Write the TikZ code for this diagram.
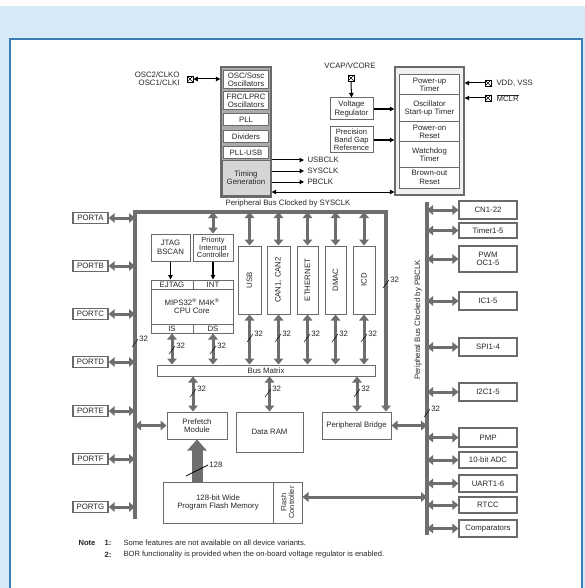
\documentclass[tikz,border=0pt]{standalone}
\usepackage{fontspec}
\setmainfont{Liberation Sans}
\usetikzlibrary{arrows.meta, positioning}

\definecolor{bgblue}{HTML}{D6EAF8}
\definecolor{frameblue}{HTML}{3D7DB5}
\definecolor{linegray}{HTML}{6A6A6A}
\definecolor{busgray}{HTML}{6E6E6E}
\definecolor{stackgray}{HTML}{ABABAB}
\definecolor{timegray}{HTML}{D6D6D6}

\tikzset{
  sz/.style 2 args={minimum width=#1pt, minimum height=#2pt},
  blk/.style={draw=linegray, line width=1pt, fill=white, inner sep=0pt, align=center},
  portbox/.style={blk, line width=1.4pt, sz={35}{11}},
  busline/.style={draw=busgray, line width=3.4pt},
  dbl/.style={draw=busgray, line width=3pt, {Triangle[width=9.5pt,length=6pt]}-{Triangle[width=9.5pt,length=6pt]}},
  sig/.style={draw=black, line width=1pt, -{Triangle[width=4.5pt,length=4.5pt]}},
  sigdbl/.style={draw=black, line width=1pt, {Triangle[width=4.5pt,length=4.5pt]}-{Triangle[width=4.5pt,length=4.5pt]}},
  pin/.style={draw=black, line width=0.6pt, fill=white, minimum size=6pt, inner sep=0pt,
    path picture={\draw[line width=0.4pt] (path picture bounding box.south west) -- (path picture bounding box.north east)
      (path picture bounding box.north west) -- (path picture bounding box.south east);}}
}

\begin{document}
\begin{tikzpicture}[x=1pt, y=-1pt, >=latex,
    every node/.style={font=\fontsize{7.8}{8.4}\selectfont, text=black!85}]
    \useasboundingbox (0,0) rectangle (585,588);
    % 1. Nền và khung
    \fill[white] (0,0) rectangle (585,588);
    \fill[bgblue] (0,6) rectangle (585,588);
    \draw[frameblue, line width=1.5pt, fill=white] (10,39) rectangle (582,600);

    % 2. Khối dao động và tạo xung
    \node[draw=linegray, line width=1.4pt, fill=stackgray, sz={50}{130}] (clkstack) at (246,132) {};
    \node[blk, sz={45}{18}] (osc) at (246,80) {OSC/Sosc\\Oscillators};
    \node[blk, sz={45}{18}] (frc) at (246,101) {FRC/LPRC\\Oscillators};
    \node[blk, sz={45}{12}] (pll) at (246,120) {PLL};
    \node[blk, sz={45}{12}] (div) at (246,137) {Dividers};
    \node[blk, sz={45}{12}] (pllusb) at (246,153) {PLL-USB};
    \node[blk, fill=timegray, sz={48}{34}] (timing) at (246,178) {Timing\\Generation};

    \node[anchor=east, align=right] (osclbl) at (183,79) {OSC2/CLKO\\OSC1/CLKI};
    \node[pin] (oscpin) at (190,79) {};
    \draw[sigdbl] (oscpin.east) -- (oscpin.east -| clkstack.west);

    \foreach \y/\name [count=\i] in {160/USBCLK, 171/SYSCLK, 182/PBCLK} {
        \node[anchor=west] (clk\i) at (304,\y) {\name};
        \draw[sig] (clkstack.east |- clk\i.west) -- (clk\i.west);
    }

    % 3. Ổn áp và khối reset
    \node (vcaplbl) at (350,66) {VCAP/VCORE};
    \node[pin] (vcappin) at (351,78) {};
    \node[blk, sz={43}{22}] (vreg) at (351.5,109) {Voltage\\Regulator};
    \node[blk, sz={43}{26}, font=\fontsize{7.6}{7.9}\selectfont] (bandgap) at (351.5,140) {Precision\\Band Gap\\Reference};
    \draw[sig] (vcappin.south) -- (vreg.north);

    \node[draw=linegray, line width=1.4pt, fill=gray!12, sz={69}{128}] (rststack) at (429.5,131) {};
    \node[blk, sz={60}{20}] (pwrt) at (429.5,85) {Power-up\\Timer};
    \node[blk, sz={60}{27}] (ost) at (429.5,108.5) {Oscillator\\Start-up Timer};
    \node[blk, sz={60}{20}] (por) at (429.5,132) {Power-on\\Reset};
    \node[blk, sz={60}{25}] (wdt) at (429.5,154.5) {Watchdog\\Timer};
    \node[blk, sz={60}{21}] (bor) at (429.5,177.5) {Brown-out\\Reset};

    \draw[sig, line width=1.6pt] (vreg.east) -- (vreg.east -| rststack.west);
    \draw[sig, line width=1.6pt] (bandgap.east) -- (bandgap.east -| rststack.west);
    \draw[sigdbl] (clkstack.east |- 0,192) -- (rststack.west |- 0,192);

    \node[pin] (vddpin) at (488,83) {};
    \node[anchor=west] (vddlbl) at (493,83) {VDD, VSS};
    \node[pin] (mclrpin) at (488,98) {};
    \node[anchor=west] (mclrlbl) at (493,98) {$\overline{\hbox{MCLR}}$};
    \draw[sig] (vddpin.west) -- (vddpin.west -| rststack.east);
    \draw[sig] (mclrpin.west) -- (mclrpin.west -| rststack.east);

    % 4. Bus SYSCLK và các cổng
    \coordinate (sb-bl) at (135,519);
    \coordinate (sb-tl) at (135,212);
    \coordinate (sb-tr) at (386,212);
    \node (sysbuslbl) at (288,203) {Peripheral Bus Clocked by SYSCLK};

    \foreach \p/\y in {A/218, B/266, C/314, D/362, E/411, F/459, G/507} {
        \node[portbox] (port\p) at (90.5,\y) {PORT\p};
        \draw[dbl] (port\p.east) -- (port\p.east -| sb-tl);
    }

    % 5. CPU
    \node[blk, sz={39}{27}] (jtag) at (170.5,247.5) {JTAG\\BSCAN};
    \node[blk, sz={40}{27}, font=\fontsize{7.4}{7.8}\selectfont] (pic) at (213,247.5) {Priority\\Interrupt\\Controller};
    \node[blk, sz={82}{53}] (cpu) at (192,306.5) {MIPS32\textsuperscript{®} M4K\textsuperscript{®}\\CPU Core};
    \node[blk, sz={42}{9}] (ejtag) at (172,284.5) {EJTAG};
    \node[blk, sz={40}{9}] (int) at (213,284.5) {INT};
    \node[blk, sz={42}{9}] (is) at (172,328.5) {IS};
    \node[blk, sz={40}{9}] (ds) at (213,328.5) {DS};
    \draw[sig, line width=1.4pt] (jtag.south) -- (jtag.south |- ejtag.north);
    \draw[sig, line width=1.4pt] (pic.south) -- (pic.south |- int.north);
    \draw[dbl] (pic.north |- sb-tl) -- (pic.north);

    % 6. Ma trận bus và ngoại vi tốc độ cao
    \node[blk, sz={218}{11}] (busmatrix) at (266,370.5) {Bus Matrix};
    \draw[dbl] (is.south) -- (is.south |- busmatrix.north);
    \draw[dbl] (ds.south) -- (ds.south |- busmatrix.north);

    \foreach \n/\x/\w/\t in {usb/249.5/23/USB, can/278.5/23/{CAN1, CAN2}, eth/307.5/21/ETHERNET,
                             dmac/335.5/21/DMAC, icd/364/22/ICD} {
        \node[blk, sz={\w}{68}] (\n) at (\x,280) {};
        \node[rotate=90] (\n-t) at (\n.center) {\t};
        \draw[dbl] (\n.north |- sb-tl) -- (\n.north);
        \draw[dbl] (\n.south) -- (\n.south |- busmatrix.north);
    }

    % 7. Bộ nhớ
    \node[blk, sz={60}{27}] (prefetch) at (197,425.5) {Prefetch\\Module};
    \node[blk, sz={67}{40}] (dataram) at (269.5,432) {Data RAM};
    \node[blk, sz={69}{27}] (pbridge) at (356.5,425.5) {Peripheral Bridge};
    \node[blk, sz={110}{41}] (flash) at (218,502.5) {128-bit Wide\\Program Flash Memory};
    \node[blk, sz={29}{41}] (flashctl) at (287.5,502.5) {};
    \node[rotate=90, align=center, font=\fontsize{7.4}{7.8}\selectfont] (flashctl-t) at (flashctl.center) {Flash\\Controller};

    \draw[busline, -{Triangle[width=9.5pt,length=6pt]}] (sb-bl) -- (sb-tl) -- (sb-tr) -- (sb-tr |- pbridge.north);
    \draw[dbl] (busmatrix.south -| 193,0) -- (prefetch.north -| 193,0);
    \draw[dbl] (busmatrix.south -| dataram.north) -- (dataram.north);
    \draw[dbl] (busmatrix.south -| 357,0) -- (pbridge.north -| 357,0);
    \draw[dbl] (sb-tl |- prefetch.west) -- (prefetch.west);
    \draw[draw=busgray, line width=11pt, -{Triangle[width=19pt,length=11pt]}] (flash.north -| prefetch.south) -- (prefetch.south);
    \draw[line width=0.8pt] (186,476) -- (208,465) node[right, inner sep=1pt] (w128) {128};

    % 8. Bus PBCLK và ngoại vi
    \coordinate (pb-top) at (427,202);
    \coordinate (pb-bot) at (427,535);
    \draw[busline] (pb-top) -- (pb-bot);
    \node[rotate=90] (pbbuslbl) at (418,320) {Peripheral Bus Clocked by PBCLK};
    \draw[dbl] (pbridge.east) -- (pbridge.east -| pb-top);
    \draw[dbl] (flashctl.east |- 0,497) -- (pb-top |- 0,497);

    \foreach \n/\y/\h/\t in {cn/210/18/CN1-22, tmr/230.5/15/Timer1-5, pwm/259/26/{PWM\\OC1-5},
                             ic/301/18/IC1-5, spi/347/18/SPI1-4, i2c/392/18/I2C1-5,
                             pmp/437.5/19/PMP, adc/460/16/10-bit ADC, uart/483.5/17/UART1-6,
                             rtcc/505/16/RTCC, cmp/528.5/17/Comparators} {
        \node[blk, line width=1.2pt, sz={58}{\h}] (\n) at (488,\y) {\t};
        \draw[dbl] (\n.west -| pb-top) -- (\n.west);
    }

    % 9. Độ rộng bus
    \foreach \x/\y [count=\i] in {172/350, 213/350, 250/338, 278/338, 307/338, 335/338, 364/338,
                                  386/284, 135/343, 193/393, 268/393, 357/393, 427/413} {
        \draw[line width=0.5pt] (\x-3,\y+4) -- (\x+3,\y-4) node[right, inner sep=1pt] (w\i) {32};
    }

    % 10. Ghi chú
    \node[anchor=west, font=\bfseries\fontsize{7.6}{8}\selectfont] (note) at (75,543) {Note};
    \node[anchor=west, font=\bfseries\fontsize{7.6}{8}\selectfont] (n1) at (101,543) {1:};
    \node[anchor=west, font=\fontsize{7.6}{8}\selectfont] (n1t) at (120,543) {Some features are not available on all device variants.};
    \node[anchor=west, font=\bfseries\fontsize{7.6}{8}\selectfont] (n2) at (101,555) {2:};
    \node[anchor=west, font=\fontsize{7.6}{8}\selectfont] (n2t) at (120,555) {BOR functionality is provided when the on-board voltage regulator is enabled.};
\end{tikzpicture}
\end{document}
